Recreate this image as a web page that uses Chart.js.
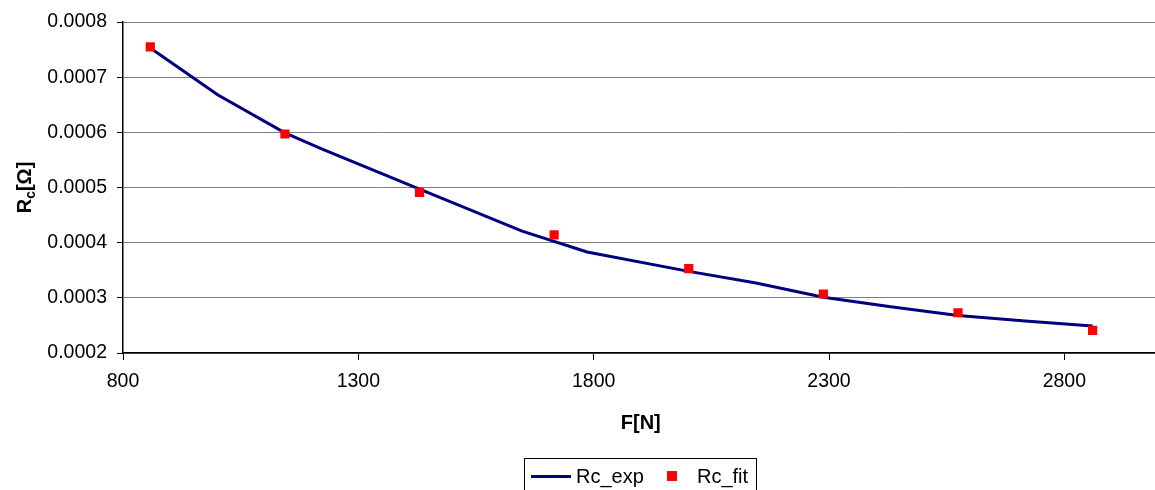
<!DOCTYPE html>
<html>
<head>
<meta charset="utf-8">
<script src="https://cdn.jsdelivr.net/npm/chart.js@4/dist/chart.umd.min.js"></script>
<style>
    html, body { margin: 0; padding: 0; background: #fff; overflow: hidden; }
    #wrap { position: relative; width: 1165px; height: 490px; }
    #legend {
        position: absolute; left: 524px; top: 458px; width: 231px; height: 40px;
        border: 1px solid #000; font: 20px "Liberation Sans", Arial, sans-serif; color: #000;
    }
    #legend .item { position: absolute; top: 5px; display: flex; align-items: center; height: 24px; }
    #legend .line { width: 40px; height: 3px; margin-right: 5px; }
    #legend .box { width: 10px; height: 10px; margin-right: 20px; }
</style>
</head>
<body>
<div id="wrap">
    <canvas id="chart"></canvas>
    <div id="legend"></div>
</div>
<script>
// measured points, Rc_exp
const expF = [858, 1001, 1144, 1222, 1430, 1648, 1786, 2002, 2145, 2288, 2431, 2574, 2717, 2860];
const expR = [0.000753, 0.000668, 0.000599, 0.00057, 0.000497, 0.000421, 0.000383, 0.000348, 0.000327, 0.000301, 0.000284, 0.000268, 0.000258, 0.000249];

// fitted points, Rc_fit
const fitF = [858, 1144, 1430, 1716, 2002, 2288, 2574, 2860];
const fitR = [0.000755, 0.000597, 0.000491, 0.000414, 0.000353, 0.000307, 0.000273, 0.000241];

const xTicks = [800, 1300, 1800, 2300, 2800];
const yTicks = [0.0002, 0.0003, 0.0004, 0.0005, 0.0006, 0.0007, 0.0008];

const FONT = '"Liberation Sans", Arial, sans-serif';

const axisTitles = {
    id: 'axisTitles',
    afterDraw(chart) {
        const { ctx, chartArea } = chart;
        ctx.save();
        ctx.fillStyle = '#000';
        ctx.textBaseline = 'alphabetic';
        ctx.textAlign = 'left';

        // x title
        ctx.font = `bold 20px ${FONT}`;
        let w = ctx.measureText('F[N]').width;
        ctx.fillText('F[N]', (chartArea.left + chartArea.right) / 2 - w / 2, chartArea.bottom + 76);

        // y title with subscript
        let big = `bold 20px ${FONT}`, small = `bold 14px ${FONT}`;
        ctx.font = big;
        let wR = ctx.measureText('R').width, wB = ctx.measureText('[Ω]').width;
        ctx.font = small;
        let wc = ctx.measureText('c').width;
        let total = wR + wc + wB;
        ctx.translate(31, (chartArea.top + chartArea.bottom) / 2);
        ctx.rotate(-Math.PI / 2);
        let x = -total / 2;
        ctx.font = big;
        ctx.fillText('R', x, 0);
        x += wR;
        ctx.font = small;
        ctx.fillText('c', x, 4);
        x += wc;
        ctx.font = big;
        ctx.fillText('[Ω]', x, 0);
        ctx.restore();
    }
};

const chart = new Chart(document.getElementById('chart'), {
    type: 'scatter',
    data: {
        datasets: [
            {
                label: 'Rc_exp',
                data: expF.map((f, i) => ({ x: f, y: expR[i] })),
                showLine: true,
                borderColor: '#000080',
                backgroundColor: '#000080',
                borderWidth: 3,
                pointRadius: 0,
                tension: 0,
                order: 2,
            },
            {
                label: 'Rc_fit',
                data: fitF.map((f, i) => ({ x: f, y: fitR[i] })),
                showLine: false,
                pointStyle: 'rect',
                pointRadius: 6.5,
                borderWidth: 0,
                backgroundColor: '#ff0000',
                borderColor: '#ff0000',
                order: 1,
            },
        ]
    },
    options: {
        responsive: true,
        maintainAspectRatio: false,
        animation: false,
        events: [],
        layout: { padding: { top: 22, right: 4, left: 0, bottom: 0 } },
        plugins: {
            legend: { display: false },
            tooltip: { enabled: false },
        },
        scales: {
            x: {
                type: 'linear',
                min: 800,
                max: 3000,
                afterBuildTicks: scale => { scale.ticks = xTicks.map(v => ({ value: v })); },
                afterFit: scale => { scale.height = 137; },
                ticks: {
                    color: '#000',
                    font: { family: FONT, size: 19.5 },
                    padding: 10,
                    maxRotation: 0,
                    callback: v => String(v),
                },
                grid: { drawOnChartArea: false, drawTicks: true, tickLength: 7, tickColor: '#000' },
                border: { color: '#000', width: 1.5 },
            },
            y: {
                min: 0.0002,
                max: 0.0008,
                afterBuildTicks: scale => { scale.ticks = yTicks.map(v => ({ value: v })); },
                afterFit: scale => { scale.width = 123; },
                ticks: {
                    color: '#000',
                    font: { family: FONT, size: 19.5 },
                    padding: 10,
                    callback: v => v.toFixed(4),
                },
                grid: { color: '#808080', lineWidth: 1, tickLength: 6, tickColor: '#000' },
                border: { color: '#000', width: 1.5 },
            },
        },
    },
    plugins: [axisTitles],
});

// html legend built from the datasets
const legend = document.getElementById('legend');
const lefts = [6, 142];
chart.data.datasets.forEach((ds, i) => {
    const item = document.createElement('div');
    item.className = 'item';
    item.style.left = lefts[i] + 'px';
    const mark = document.createElement('span');
    mark.className = ds.showLine ? 'line' : 'box';
    mark.style.background = ds.showLine ? ds.borderColor : ds.backgroundColor;
    item.appendChild(mark);
    item.appendChild(document.createTextNode(ds.label));
    legend.appendChild(item);
});
</script>
</body>
</html>
